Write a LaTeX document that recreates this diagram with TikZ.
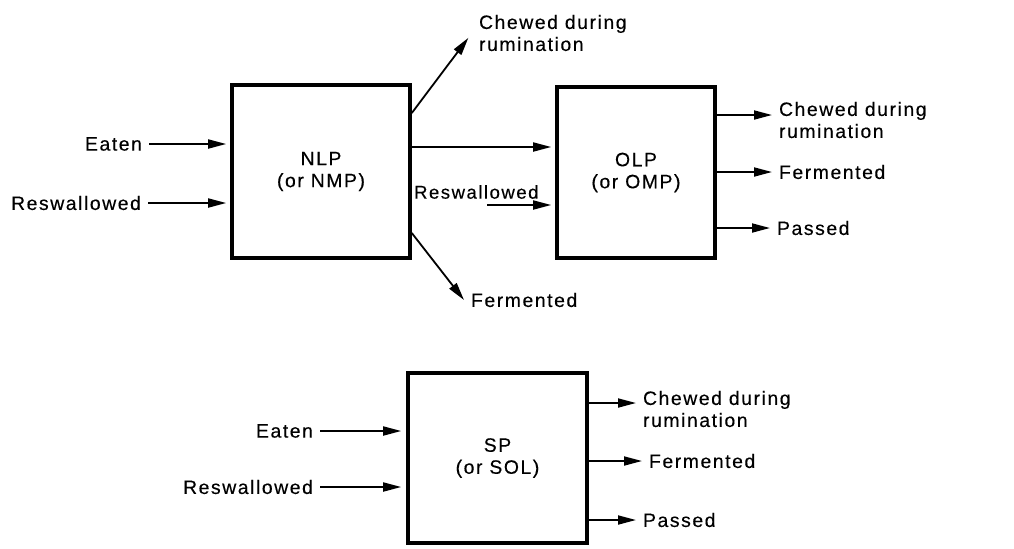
\documentclass[tikz,border=0pt]{standalone}
\usepackage{fontspec}
\setmainfont{Liberation Sans}[LetterSpace=8, FakeBold=0.3]
\usetikzlibrary{arrows.meta,positioning}
\tikzset{
    pool/.style={draw, rectangle, line width=1.8pt, align=center},
    flow/.style={-{Triangle[length=9pt, width=4.5pt]}, line width=0.9pt},
    lbl/.style={align=left},
    into/.style={flow, shorten >=2pt}
}

\begin{document}
\begin{tikzpicture}[x=0.5pt, y=-0.5pt, font=\fontsize{9.7}{11}\selectfont]
                \useasboundingbox (0,0) rectangle (1014,548);
                % pools
                \node[pool, minimum width=89pt, minimum height=86.5pt] (nlp) at (321,171.5) {NLP\\(or NMP)};
                \node[pool, minimum width=79pt, minimum height=85.5pt] (olp) at (636,172.5) {OLP\\(or OMP)};
                \node[pool, minimum width=89.5pt, minimum height=85pt] (sp) at (497.5,458) {SP\\(or SOL)};
                % NLP
                \node[lbl, anchor=east] (eat1) at (149,144) {Eaten};
                \node[lbl, anchor=east] (resw1) at (148,203) {Reswallowed};
                \draw[into] (eat1) -- (eat1 -| nlp.west);
                \draw[into] (resw1) -- (resw1 -| nlp.west);
                \node[lbl, anchor=west] (chew1) at (472,33) {Chewed during\\rumination};
                \node[lbl, anchor=west] (ferm1) at (464,300) {Fermented};
                \draw[flow, shorten >=3pt] ([yshift=29.25pt]nlp.east) -- (chew1.west);
                \draw[flow] ([yshift=-30.75pt]nlp.east) -- (ferm1.west);
                \coordinate (link) at ([yshift=12.25pt]nlp.east);
                \draw[into] (link) -- (link -| olp.west);
                % OLP
                \node[lbl, anchor=west, font=\fontsize{9.3}{11}\selectfont] (resw2) at (407,192) {Reswallowed};
                \coordinate (resw2in) at (487,205);
                \draw[into] (resw2in) -- (resw2in -| olp.west);
                \node[lbl, anchor=west] (chew2) at (772,120) {Chewed during\\rumination};
                \node[lbl, anchor=west] (ferm2) at (772,172) {Fermented};
                \node[lbl, anchor=west] (pass2) at (770,228) {Passed};
                \coordinate (c2) at ([yshift=2.5pt]chew2.west);
                \draw[flow] (c2 -| olp.east) -- (c2);
                \draw[flow] (ferm2.west -| olp.east) -- (ferm2.west);
                \draw[flow] (pass2.west -| olp.east) -- (pass2.west);
                % SP
                \node[lbl, anchor=east] (eat3) at (320,431) {Eaten};
                \node[lbl, anchor=east] (resw3) at (320,487) {Reswallowed};
                \draw[flow, shorten >=2.5pt] (eat3) -- (eat3 -| sp.west);
                \draw[flow, shorten >=2.5pt] (resw3) -- (resw3 -| sp.west);
                \node[lbl, anchor=west] (chew3) at (636,409) {Chewed during\\rumination};
                \node[lbl, anchor=west] (ferm3) at (642,461) {Fermented};
                \node[lbl, anchor=west] (pass3) at (636,520) {Passed};
                \coordinate (c3) at ([yshift=3pt]chew3.west);
                \draw[flow] (c3 -| sp.east) -- (c3);
                \draw[flow] (ferm3.west -| sp.east) -- (ferm3.west);
                \draw[flow] (pass3.west -| sp.east) -- (pass3.west);
            \end{tikzpicture}
\end{document}
